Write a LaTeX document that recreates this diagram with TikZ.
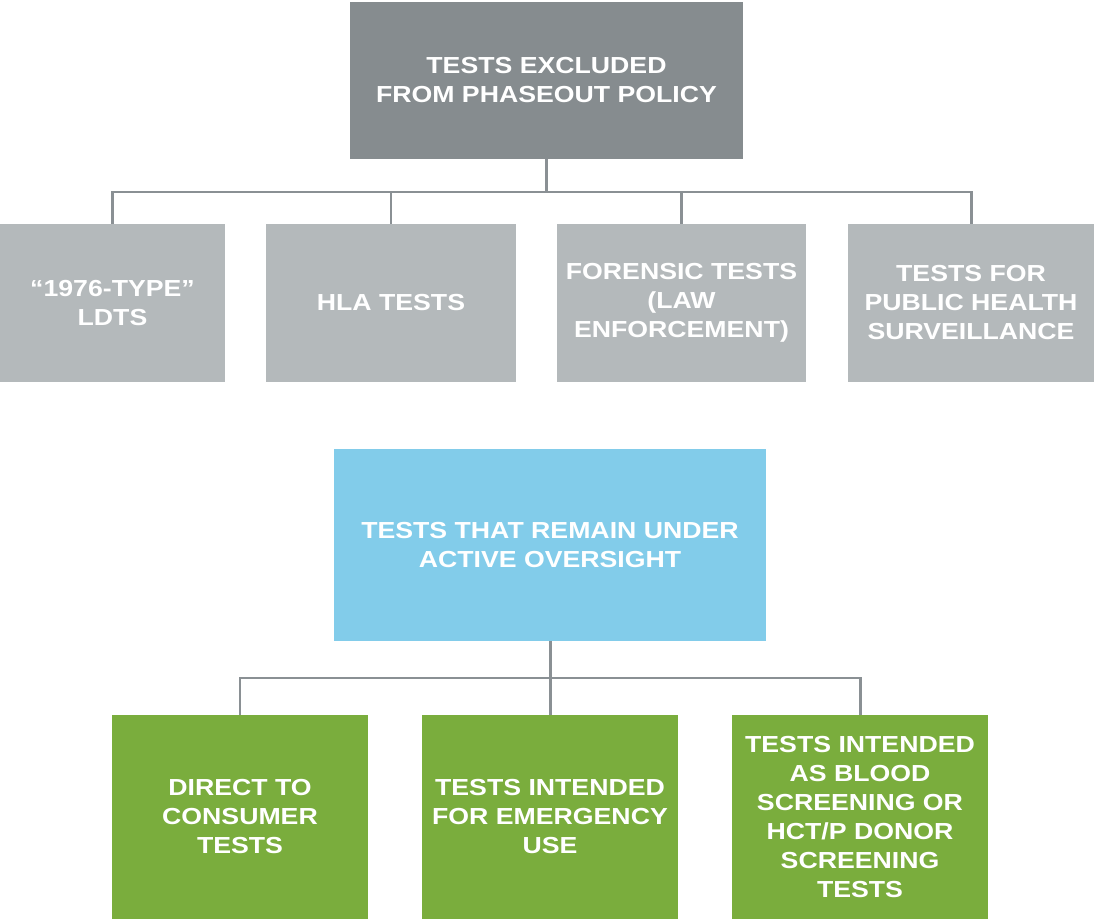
\documentclass[tikz,border=0pt]{standalone}
\usepackage{fontspec}
\setmainfont[FakeStretch=1.15]{Liberation Sans}
\usepackage{xcolor}
\usepackage{tikz}
\usetikzlibrary{positioning}

\definecolor{darkgrey}{HTML}{868C8F}
\definecolor{lightgrey}{HTML}{B4B9BB}
\definecolor{skyblue}{HTML}{82CCEA}
\definecolor{leafgreen}{HTML}{7AAD3D}
\definecolor{linegrey}{HTML}{8A9094}

\begin{document}
\begin{tikzpicture}[box/.style={rectangle, inner sep=0pt, text=white, align=center, font=\fontsize{13.2}{16.5}\selectfont\bfseries},
  conn/.style={draw=linegrey, line width=1.7pt}]
\useasboundingbox (0,0) rectangle (21.88,-18.4);

\node[box, fill=darkgrey, minimum width=7.86cm, minimum height=3.14cm] at (10.93,-1.61) (excl) {TESTS EXCLUDED\\FROM PHASEOUT POLICY};
\node[box, fill=lightgrey, minimum width=4.5cm, minimum height=3.16cm] at (2.25,-6.06) (ldt) {``1976-TYPE''\\LDTS};
\node[box, fill=lightgrey, minimum width=5.0cm, minimum height=3.16cm] at (7.82,-6.06) (hla) {HLA TESTS};
\node[box, fill=lightgrey, minimum width=4.98cm, minimum height=3.16cm] at (13.63,-6.06) (fors) {FORENSIC TESTS\\(LAW\\ENFORCEMENT)};
\node[box, fill=lightgrey, minimum width=4.92cm, minimum height=3.16cm] at (19.42,-6.06) (phs) {TESTS FOR\\PUBLIC HEALTH\\SURVEILLANCE};
\coordinate (bus1) at (10.93,-3.84);
\draw[conn] (excl.south) -- (bus1);
\draw[conn] (ldt.north) |- (bus1) -| (phs.north);
\draw[conn] (hla.north) -- (hla.north |- bus1);
\draw[conn] (fors.north) -- (fors.north |- bus1);

\node[box, fill=skyblue, minimum width=8.64cm, minimum height=3.84cm] at (11.0,-10.9) (active) {TESTS THAT REMAIN UNDER\\ACTIVE OVERSIGHT};
\node[box, fill=leafgreen, minimum width=5.12cm, minimum height=4.08cm] at (4.8,-16.34) (dtc) {DIRECT TO\\CONSUMER\\TESTS};
\node[box, fill=leafgreen, minimum width=5.12cm, minimum height=4.08cm] at (11.0,-16.34) (emer) {TESTS INTENDED\\FOR EMERGENCY\\USE};
\node[box, fill=leafgreen, minimum width=5.12cm, minimum height=4.08cm] at (17.2,-16.34) (blood) {TESTS INTENDED\\AS BLOOD\\SCREENING OR\\HCT/P DONOR\\SCREENING\\TESTS};
\coordinate (bus2) at (11.0,-13.56);
\draw[conn] (active.south) -- (emer.north);
\draw[conn] (dtc.north) |- (bus2) -| (blood.north);

\end{tikzpicture}
\end{document}
